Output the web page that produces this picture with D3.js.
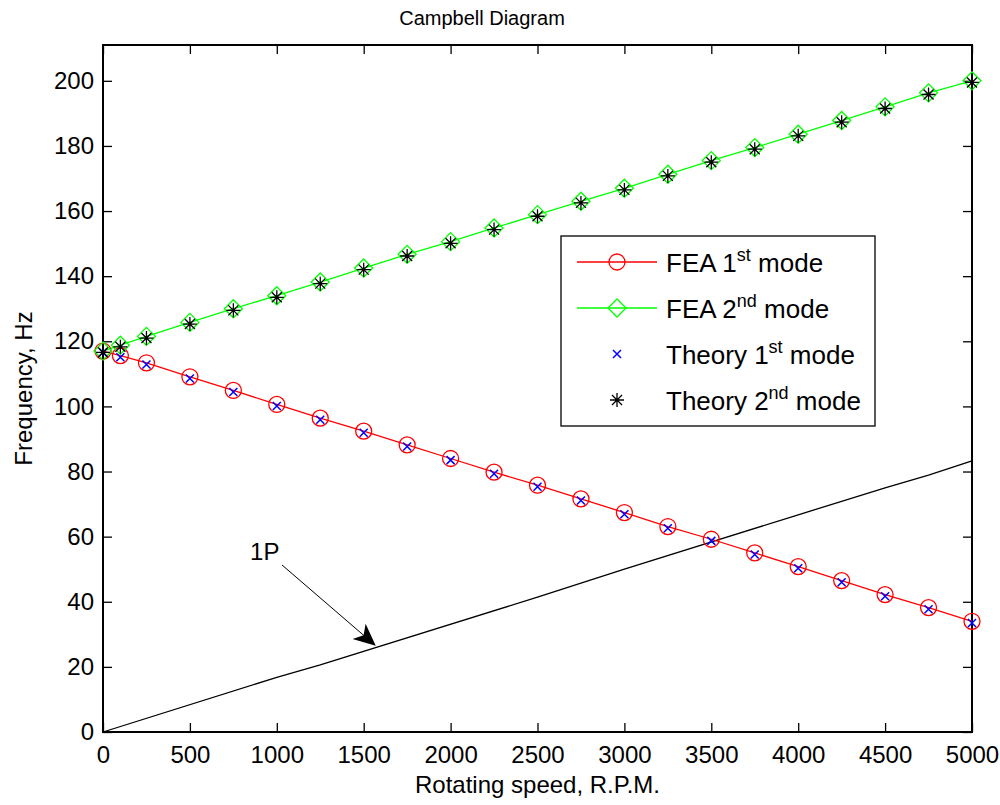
<!DOCTYPE html>
<html>
<head>
<meta charset="utf-8">
<script src="https://cdn.jsdelivr.net/npm/d3@7"></script>
<style>
  body { margin: 0; background: #fff; }
  svg { font-family: "Liberation Sans", Arial, sans-serif; }
</style>
</head>
<body>
<svg id="chart" width="1000" height="805"></svg>
<script>
const rpm = [0, 100, 250, 500, 750, 1000, 1250, 1500, 1750, 2000, 2250, 2500, 2750, 3000, 3250, 3500, 3750, 4000, 4250, 4500, 4750, 5000];
const fea1 = [117, 115.6, 113.4, 109.1, 104.9, 100.6, 96.4, 92.4, 88.2, 84, 79.8, 75.8, 71.6, 67.4, 63.1, 59.2, 55, 50.8, 46.5, 42.2, 38.2, 34];
const fea2 = [117, 118.8, 121.5, 125.8, 130, 134, 138.2, 142.5, 146.7, 150.6, 154.8, 158.9, 163, 167, 171.3, 175.5, 179.5, 183.6, 187.8, 192, 196.3, 200];
const theory1 = [116.6, 115.1, 112.9, 108.6, 104.4, 100.1, 95.9, 91.9, 87.7, 83.5, 79.3, 75.3, 71.1, 66.9, 62.6, 58.7, 54.5, 50.3, 46, 41.7, 37.7, 33.5];
const theory2 = [116.6, 118.3, 121, 125.3, 129.5, 133.5, 137.7, 142, 146.2, 150.1, 154.3, 158.4, 162.5, 166.5, 170.8, 175, 179, 183.1, 187.3, 191.5, 195.8, 199.5];
const onePRpm = [0, 1000, 1250, 2500, 3000, 4000, 4500, 4750, 5000];
const onePFreq = [0, 16.8, 20.6, 41.4, 50, 66.7, 75, 78.9, 83.3];
const xTicks = d3.range(0, 5001, 500);
const yTicks = d3.range(0, 201, 20);

const svg = d3.select("#chart");
const m = { left: 103, right: 972, top: 45, bottom: 732 };

const x = d3.scaleLinear().domain([0, 5000]).range([m.left, m.right]);
const y = d3.scaleLinear().domain([0, 211]).range([m.bottom, m.top]);

const tickLen = 9;

// axes (inward ticks on all four sides, like MATLAB)
svg.append("g").attr("transform", `translate(0,${m.bottom})`)
  .call(d3.axisBottom(x).tickValues(xTicks).tickFormat(d3.format("d"))
    .tickSize(-tickLen).tickPadding(14).tickSizeOuter(0));
svg.append("g").attr("transform", `translate(0,${m.top})`)
  .call(d3.axisTop(x).tickValues(xTicks).tickSize(-tickLen).tickFormat("").tickSizeOuter(0));
svg.append("g").attr("transform", `translate(${m.left},0)`)
  .call(d3.axisLeft(y).tickValues(yTicks).tickSize(-tickLen).tickPadding(9).tickSizeOuter(0));
svg.append("g").attr("transform", `translate(${m.right},0)`)
  .call(d3.axisRight(y).tickValues(yTicks).tickSize(-tickLen).tickFormat("").tickSizeOuter(0));

svg.selectAll(".domain").remove();
svg.selectAll(".tick line").attr("stroke", "#000").attr("stroke-width", 1.3);
svg.selectAll(".tick text").attr("font-size", 24).attr("fill", "#000")
  .attr("font-family", "Liberation Sans, Arial, sans-serif");

svg.append("rect")
  .attr("x", m.left).attr("y", m.top)
  .attr("width", m.right - m.left).attr("height", m.bottom - m.top)
  .attr("fill", "none").attr("stroke", "#000").attr("stroke-width", 2);

// 1P line
const line = d3.line().x(d => x(d[0])).y(d => y(d[1]));
svg.append("path")
  .datum(d3.zip(onePRpm, onePFreq))
  .attr("d", line).attr("fill", "none").attr("stroke", "#000").attr("stroke-width", 1.3);

// FEA lines
svg.append("path").datum(d3.zip(rpm, fea1)).attr("d", line)
  .attr("fill", "none").attr("stroke", "#ff0000").attr("stroke-width", 1.3);
svg.append("path").datum(d3.zip(rpm, fea2)).attr("d", line)
  .attr("fill", "none").attr("stroke", "#00ff00").attr("stroke-width", 1.3);

// markers
function circleMarker(g) {
  g.append("circle").attr("r", 8).attr("fill", "none").attr("stroke", "#ff0000").attr("stroke-width", 1.3);
}
function diamondMarker(g) {
  g.append("path").attr("d", "M0,-9L9,0L0,9L-9,0Z").attr("fill", "none").attr("stroke", "#00ff00").attr("stroke-width", 1.3);
}
function xMarker(g) {
  g.append("path").attr("d", "M-4,-4L4,4M-4,4L4,-4").attr("stroke", "#0000ff").attr("stroke-width", 1.5);
}
function starMarker(g) {
  g.append("path").attr("d", "M-7,0H7M0,-7V7M-5,-5L5,5M-5,5L5,-5")
    .attr("stroke", "#000").attr("stroke-width", 1.3);
}

function markers(xs, ys, fn) {
  const g = svg.append("g");
  g.selectAll("g").data(d3.zip(xs, ys)).join("g")
    .attr("transform", d => `translate(${x(d[0])},${y(d[1])})`)
    .each(function () { fn(d3.select(this)); });
}
markers(rpm, fea1, circleMarker);
markers(rpm, fea2, diamondMarker);
markers(rpm, theory1, xMarker);
markers(rpm, theory2, starMarker);

// title and axis labels
svg.append("text").attr("x", 482).attr("y", 25)
  .attr("text-anchor", "middle").attr("font-size", 20).text("Campbell Diagram");
svg.append("text").attr("x", (m.left + m.right) / 2).attr("y", 793)
  .attr("text-anchor", "middle").attr("font-size", 24).text("Rotating speed, R.P.M.");
svg.append("text").attr("transform", `translate(32,${(m.top + m.bottom) / 2}) rotate(-90)`)
  .attr("text-anchor", "middle").attr("font-size", 24).text("Frequency, Hz");

// 1P annotation
const arrowFrom = [1030, 51.3], arrowTo = [1565, 26.7];
svg.append("defs").append("marker")
  .attr("id", "ah").attr("viewBox", "0 0 22 22").attr("refX", 21).attr("refY", 11)
  .attr("markerWidth", 22).attr("markerHeight", 22).attr("markerUnits", "userSpaceOnUse")
  .attr("orient", "auto")
  .append("path").attr("d", "M0,1L22,11L0,21L6,11Z").attr("fill", "#000");
svg.append("line")
  .attr("x1", x(arrowFrom[0])).attr("y1", y(arrowFrom[1]))
  .attr("x2", x(arrowTo[0])).attr("y2", y(arrowTo[1]))
  .attr("stroke", "#000").attr("stroke-width", 1).attr("marker-end", "url(#ah)");
svg.append("text").attr("x", x(846)).attr("y", y(52.8)).attr("font-size", 24).text("1P");

// legend
const legendItems = [
  { name: "FEA 1", sup: "st", fn: circleMarker, color: "#ff0000" },
  { name: "FEA 2", sup: "nd", fn: diamondMarker, color: "#00ff00" },
  { name: "Theory 1", sup: "st", fn: xMarker, color: null },
  { name: "Theory 2", sup: "nd", fn: starMarker, color: null }
];
const lg = svg.append("g");
lg.append("rect").attr("x", 561).attr("y", 236).attr("width", 314).attr("height", 190)
  .attr("fill", "#fff").attr("stroke", "#000").attr("stroke-width", 1.3);
legendItems.forEach((d, i) => {
  const cy = 262 + i * 46;
  if (d.color) {
    lg.append("line").attr("x1", 577).attr("x2", 657).attr("y1", cy).attr("y2", cy)
      .attr("stroke", d.color).attr("stroke-width", 1.3);
  }
  d.fn(lg.append("g").attr("transform", `translate(617,${cy})`));
  const t = lg.append("text").attr("x", 666).attr("y", cy + 10).attr("font-size", 26);
  t.append("tspan").text(d.name);
  t.append("tspan").attr("dy", -11).attr("font-size", 18).text(d.sup);
  t.append("tspan").attr("dy", 11).text(" mode");
});
</script>
</body>
</html>
